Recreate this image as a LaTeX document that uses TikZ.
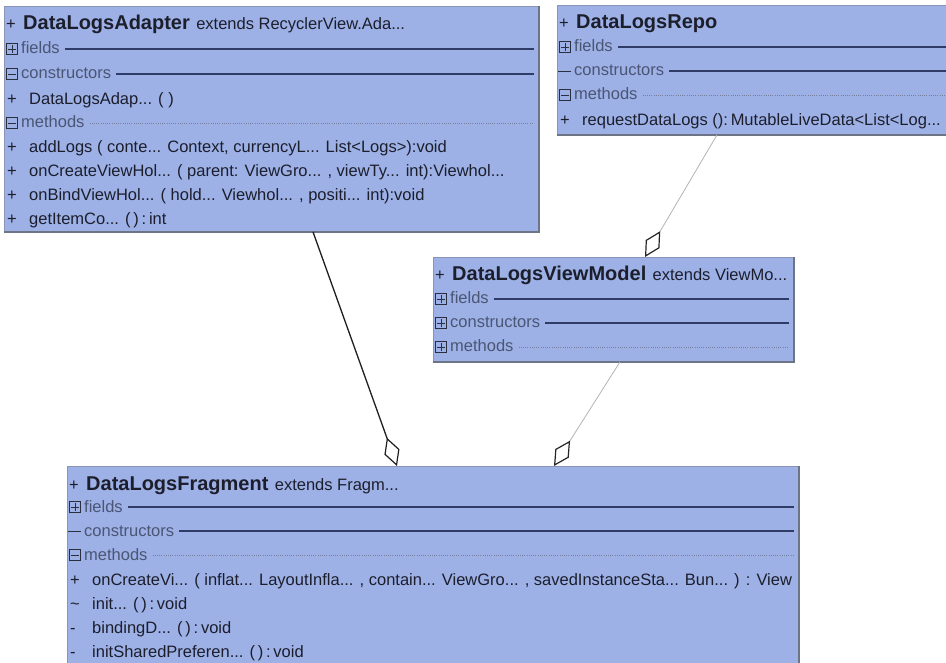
\documentclass[tikz,border=0pt]{standalone}
\usepackage{fontspec}
\setmainfont{Liberation Sans}
\usetikzlibrary{arrows.meta,calc}

\definecolor{boxfill}{HTML}{9DB1E7}
\definecolor{boxedge}{HTML}{8A94B4}
\definecolor{boxshade}{HTML}{6C7486}
\definecolor{ruleblue}{HTML}{2F3C68}
\definecolor{dotgray}{HTML}{76809A}
\definecolor{ink}{HTML}{1C1E2C}
\definecolor{labelgray}{HTML}{4B5574}
\definecolor{iconink}{HTML}{2A2F40}
\definecolor{linkgray}{HTML}{B4B4B4}

\newcommand\memfont{\fontsize{16.5}{19}\selectfont}
\newcommand\labfont{\fontsize{16.5}{19}\selectfont}
\newcommand\ttlfont{\fontsize{20}{23}\selectfont\bfseries}

\tikzset{
  umlbox/.style={draw=boxedge, line width=0.9pt, fill=boxfill, rectangle,
    inner sep=0pt, anchor=north west},
  member/.style={anchor=base west, inner sep=0pt, font=\memfont, text=ink},
  seclabel/.style={anchor=base west, inner sep=0pt, font=\labfont, text=labelgray},
  titletext/.style={anchor=base west, inner sep=0pt, text=ink},
  sepline/.style={draw=ruleblue, line width=1.3pt},
  dotrule/.style={draw=dotgray, line width=0.8pt, dash pattern=on 0.8pt off 1.4pt},
  iconbox/.style={draw=iconink, line width=0.8pt, fill=boxfill, minimum size=11.5pt,
    inner sep=0pt, rectangle},
  iconstroke/.style={draw=iconink, line width=0.9pt},
  strongagg/.style={draw=black!88, line width=1.3pt,
    -{Diamond[length=30pt,width=16pt,fill=white,line width=1.2pt]}},
  weakagg/.style={draw=linkgray, line width=0.8pt,
    -{Diamond[length=30pt,width=16pt,color=black!85,fill=white,line width=1.2pt]}},
}

% compartment toggle icons
\newcommand\iconplus[3]{%
  \node[iconbox] (#1) at (#2,#3) {};
  \draw[iconstroke] ([xshift=2.3pt]#1.west) -- ([xshift=-2.3pt]#1.east)
                    ([yshift=-2.3pt]#1.north) -- ([yshift=2.3pt]#1.south);}
\newcommand\iconminus[3]{%
  \node[iconbox] (#1) at (#2,#3) {};
  \draw[iconstroke] ([xshift=2.3pt]#1.west) -- ([xshift=-2.3pt]#1.east);}
\newcommand\icondash[3]{%
  \coordinate (#1) at (#2,#3);
  \draw[iconstroke] ([xshift=-7pt]#1) -- ([xshift=6pt]#1);}

% compartment header: name, box, left x, centre y, icon, label, rule style
\newcommand\umlsec[7]{%
  #5{#1i}{#3+8}{#4}%
  \node[seclabel] (#1l) at (#3+17,#4+5) {#6};
  \coordinate (#1r) at ($(#1l.base east)+(5,-5)$);
  \draw[#7, shorten >=5pt] (#1r) -- (#1r -| #2.east);}

% member row: name, left x, centre y, visibility, signature
\newcommand\umlmember[5]{%
  \node[member] (#1p) at (#2+3,#3+5.5) {#4};
  \node[member] (#1) at (#2+25,#3+5.5) {#5};}

% class title: name, left x, baseline y, class name
\newcommand\umltitle[4]{%
  \node[titletext, font=\memfont] (#1p) at (#2+2,#3) {+};
  \node[titletext, font=\ttlfont] (#1) at (#2+19,#3) {#4};}

\begin{document}
\begin{tikzpicture}[x=1pt,y=-1pt]
\useasboundingbox (0,0) rectangle (946,663);
\fill[white] (0,0) rectangle (946,663);
\clip (0,0) rectangle (946,663);

% class boxes
\node[umlbox, minimum width=534pt, minimum height=225pt] (adapter) at (4,6) {};
\node[umlbox, minimum width=400pt, minimum height=129pt] (repo) at (557,5) {};
\node[umlbox, minimum width=360pt, minimum height=104pt] (vm) at (433,257) {};
\node[umlbox, minimum width=731pt, minimum height=230pt] (frag) at (67,466) {};
\foreach \b in {adapter,repo,vm,frag}
  \draw[boxshade, line width=1.6pt] (\b.north east) -- (\b.south east) -- (\b.south west);

% DataLogsAdapter
\umltitle{adT}{4}{29.5}{DataLogsAdapter}
\node[titletext, font=\memfont] (adX) at ($(adT.base east)+(6,0)$) {extends RecyclerView.Ada...};
\umlsec{adF}{adapter}{4}{49}{\iconplus}{fields}{sepline}
\umlsec{adC}{adapter}{4}{74}{\iconminus}{constructors}{sepline}
\umlmember{adMa}{4}{99}{+}{DataLogsAdap... ( )}
\umlsec{adM}{adapter}{4}{123}{\iconminus}{methods}{dotrule}
\umlmember{adMb}{4}{147}{+}{addLogs ( conte... Context, currencyL... List<Logs>):void}
\umlmember{adMc}{4}{171}{+}{onCreateViewHol... ( parent: ViewGro... , viewTy... int):Viewhol...}
\umlmember{adMd}{4}{195}{+}{onBindViewHol... ( hold... Viewhol... , positi... int):void}
\umlmember{adMe}{4}{219}{+}{getItemCo... (\,)\,:\,int}

% DataLogsRepo
\umltitle{rpT}{557}{28.5}{DataLogsRepo}
\umlsec{rpF}{repo}{557}{47}{\iconplus}{fields}{sepline}
\umlsec{rpC}{repo}{557}{71}{\icondash}{constructors}{sepline}
\umlsec{rpM}{repo}{557}{95}{\iconminus}{methods}{dotrule}
\umlmember{rpMa}{557}{120}{+}{requestDataLogs ():\,MutableLiveData<List<Log...}

% DataLogsViewModel
\umltitle{vmT}{433}{280.5}{DataLogsViewModel}
\node[titletext, font=\memfont] (vmX) at ($(vmT.base east)+(6,0)$) {extends ViewMo...};
\umlsec{vmF}{vm}{433}{299}{\iconplus}{fields}{sepline}
\umlsec{vmC}{vm}{433}{323}{\iconplus}{constructors}{sepline}
\umlsec{vmM}{vm}{433}{347}{\iconplus}{methods}{dotrule}

% DataLogsFragment
\umltitle{frT}{67}{490}{DataLogsFragment}
\node[titletext, font=\memfont] (frX) at ($(frT.base east)+(6,0)$) {extends Fragm...};
\umlsec{frF}{frag}{67}{507}{\iconplus}{fields}{sepline}
\umlsec{frC}{frag}{67}{531}{\icondash}{constructors}{sepline}
\umlsec{frM}{frag}{67}{555}{\iconminus}{methods}{dotrule}
\umlmember{frMa}{67}{580}{+}{onCreateVi... ( inflat... LayoutInfla... , contain... ViewGro... , savedInstanceSta... Bun... ) : View}
\umlmember{frMb}{67}{604}{\textasciitilde}{init... (\,)\,:\,void}
\umlmember{frMc}{67}{628}{-}{bindingD... (\,)\,:\,void}
\umlmember{frMd}{67}{652}{-}{initSharedPreferen... (\,)\,:\,void}

% aggregation links
\coordinate (adOut) at ($(adapter.south west)+(309,0)$);
\coordinate (frInA) at ($(frag.north west)+(330,0)$);
\coordinate (rpOut) at ($(repo.south west)+(160,0)$);
\coordinate (vmIn)  at ($(vm.north west)+(212,0)$);
\coordinate (vmOut) at ($(vm.south west)+(187,0)$);
\coordinate (frInB) at ($(frag.north west)+(487,0)$);
\draw[strongagg] (adOut) -- (frInA);
\draw[weakagg] (rpOut) -- (vmIn);
\draw[weakagg] (vmOut) -- (frInB);
\end{tikzpicture}
\end{document}
